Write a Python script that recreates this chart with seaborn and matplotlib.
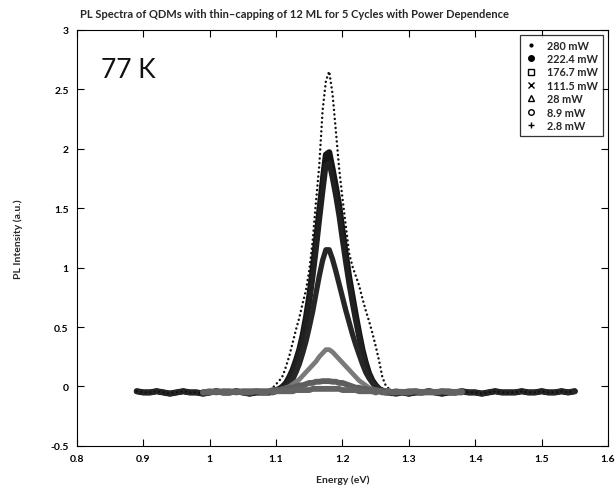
import matplotlib
matplotlib.use("Agg")
import matplotlib.pyplot as plt
from matplotlib.lines import Line2D
from matplotlib.ticker import FuncFormatter, FixedLocator
import seaborn as sns
import pandas as pd

# ---------------- data ----------------
E_WIDE = [0.89, 0.90, 0.91, 0.92, 0.93, 0.94, 0.95, 0.96, 0.97, 0.98,
          0.99, 1.00, 1.01, 1.02, 1.03, 1.04, 1.05, 1.06, 1.07, 1.08,
          1.085, 1.09, 1.095, 1.10, 1.105, 1.11, 1.115, 1.12, 1.125, 1.13,
          1.135, 1.14, 1.145, 1.15, 1.155, 1.16, 1.165, 1.17, 1.175, 1.18,
          1.185, 1.19, 1.195, 1.20, 1.205, 1.21, 1.215, 1.22, 1.225, 1.23,
          1.235, 1.24, 1.245, 1.25, 1.255, 1.26, 1.265, 1.27, 1.275, 1.28,
          1.29, 1.30, 1.31, 1.32, 1.33, 1.34, 1.35, 1.36, 1.37, 1.38,
          1.39, 1.40, 1.41, 1.42, 1.43, 1.44, 1.45, 1.46, 1.47, 1.48,
          1.49, 1.50, 1.51, 1.52, 1.53, 1.54, 1.55]

BASE_LEFT = [-0.04, -0.05, -0.05, -0.04, -0.05, -0.06, -0.05, -0.04, -0.05, -0.05,
             -0.06, -0.05, -0.04, -0.05, -0.05, -0.04, -0.05, -0.06, -0.05, -0.05]
BASE_RIGHT = [-0.05, -0.06, -0.05, -0.05, -0.04, -0.05, -0.06, -0.05, -0.05, -0.04,
              -0.05, -0.05, -0.06, -0.05, -0.04, -0.05, -0.05, -0.05, -0.04, -0.05,
              -0.05, -0.04, -0.05, -0.05, -0.04, -0.05, -0.04]

PEAK_280 = [-0.04, -0.03, -0.01, 0.02, 0.05, 0.09, 0.17, 0.26, 0.37, 0.48,
            0.58, 0.70, 0.81, 0.98, 1.22, 1.55, 1.86, 2.32, 2.57, 2.65,
            2.46, 2.15, 1.83, 1.58, 1.35, 1.12, 1.01, 0.93, 0.85, 0.74,
            0.64, 0.55, 0.45, 0.34, 0.22, 0.08, 0.01, -0.02, -0.04, -0.05]
PEAK_222 = [-0.05, -0.05, -0.04, -0.03, -0.02, 0.00, 0.03, 0.08, 0.14, 0.22,
            0.31, 0.43, 0.58, 0.76, 0.98, 1.22, 1.47, 1.72, 1.95, 1.97,
            1.83, 1.68, 1.52, 1.31, 1.11, 0.92, 0.76, 0.60, 0.45, 0.31,
            0.20, 0.11, 0.05, 0.01, -0.02, -0.04, -0.05, -0.05, -0.05, -0.06]
PEAK_176 = [-0.05, -0.05, -0.05, -0.04, -0.03, -0.01, 0.02, 0.06, 0.12, 0.19,
            0.28, 0.39, 0.53, 0.70, 0.91, 1.14, 1.39, 1.63, 1.86, 1.88,
            1.75, 1.60, 1.43, 1.23, 1.04, 0.86, 0.70, 0.55, 0.41, 0.28,
            0.18, 0.10, 0.04, 0.00, -0.03, -0.04, -0.05, -0.05, -0.06, -0.05]
PEAK_111 = [-0.05, -0.05, -0.05, -0.04, -0.04, -0.03, -0.01, 0.02, 0.06, 0.12,
            0.19, 0.28, 0.38, 0.50, 0.63, 0.78, 0.93, 1.06, 1.15, 1.15,
            1.07, 0.97, 0.86, 0.75, 0.64, 0.54, 0.44, 0.35, 0.27, 0.19,
            0.12, 0.07, 0.03, 0.00, -0.02, -0.03, -0.04, -0.05, -0.05, -0.05]

P280 = BASE_LEFT + PEAK_280 + BASE_RIGHT
P222 = BASE_LEFT + PEAK_222 + BASE_RIGHT
P176 = BASE_LEFT + PEAK_176 + BASE_RIGHT
P111 = BASE_LEFT + PEAK_111 + BASE_RIGHT

E_NARROW = [0.99, 1.00, 1.01, 1.02, 1.03, 1.04, 1.05, 1.06, 1.07, 1.08,
            1.085, 1.09, 1.095, 1.10, 1.105, 1.11, 1.115, 1.12, 1.125, 1.13,
            1.135, 1.14, 1.145, 1.15, 1.155, 1.16, 1.165, 1.17, 1.175, 1.18,
            1.185, 1.19, 1.195, 1.20, 1.205, 1.21, 1.215, 1.22, 1.225, 1.23,
            1.235, 1.24, 1.245, 1.25, 1.255, 1.26, 1.265, 1.27, 1.275, 1.28,
            1.29, 1.30, 1.31, 1.32, 1.33, 1.34, 1.35, 1.36, 1.37, 1.38]

P28 = [-0.04, -0.05, -0.04, -0.04, -0.05, -0.04, -0.04, -0.05, -0.04, -0.04,
       -0.04, -0.04, -0.04, -0.04, -0.03, -0.02, -0.01, 0.00, 0.02, 0.04,
       0.06, 0.09, 0.12, 0.15, 0.18, 0.21, 0.25, 0.28, 0.31, 0.31,
       0.29, 0.26, 0.23, 0.20, 0.17, 0.14, 0.11, 0.08, 0.05, 0.03,
       0.01, -0.01, -0.02, -0.03, -0.03, -0.04, -0.04, -0.04, -0.05, -0.04,
       -0.04, -0.05, -0.04, -0.04, -0.05, -0.04, -0.04, -0.05, -0.04, -0.04]
P8_9 = [-0.05, -0.04, -0.05, -0.04, -0.04, -0.05, -0.04, -0.04, -0.04, -0.04,
        -0.04, -0.04, -0.03, -0.03, -0.03, -0.02, -0.02, -0.01, -0.01, 0.00,
        0.01, 0.01, 0.02, 0.03, 0.03, 0.04, 0.04, 0.045, 0.045, 0.045,
        0.04, 0.04, 0.03, 0.03, 0.02, 0.01, 0.00, -0.01, -0.01, -0.02,
        -0.02, -0.03, -0.03, -0.03, -0.04, -0.04, -0.04, -0.04, -0.05, -0.04,
        -0.05, -0.04, -0.04, -0.05, -0.04, -0.05, -0.04, -0.04, -0.05, -0.04]
P2_8 = [-0.05, -0.05, -0.04, -0.05, -0.05, -0.04, -0.05, -0.05, -0.04, -0.05,
        -0.05, -0.04, -0.05, -0.04, -0.04, -0.04, -0.04, -0.04, -0.04, -0.03,
        -0.03, -0.03, -0.03, -0.03, -0.02, -0.02, -0.02, -0.02, -0.02, -0.02,
        -0.02, -0.02, -0.02, -0.03, -0.03, -0.03, -0.03, -0.03, -0.04, -0.04,
        -0.04, -0.04, -0.04, -0.05, -0.04, -0.05, -0.05, -0.04, -0.05, -0.05,
        -0.05, -0.05, -0.04, -0.05, -0.05, -0.05, -0.04, -0.05, -0.05, -0.05]

LABELS = ["280 mW", "222.4 mW", "176.7 mW", "111.5 mW", "28 mW", "8.9 mW", "2.8 mW"]
X_TICKS = [0.8, 0.9, 1.0, 1.1, 1.2, 1.3, 1.4, 1.5, 1.6]
Y_TICKS = [-0.5, 0, 0.5, 1, 1.5, 2, 2.5, 3]

# ---------------- build table ----------------
series = [(LABELS[0], E_WIDE, P280), (LABELS[1], E_WIDE, P222),
          (LABELS[2], E_WIDE, P176), (LABELS[3], E_WIDE, P111),
          (LABELS[4], E_NARROW, P28), (LABELS[5], E_NARROW, P8_9),
          (LABELS[6], E_NARROW, P2_8)]
rows = []
for name, xs, ys in series:
    for x, y in zip(xs, ys):
        rows.append({"Energy": x, "Intensity": y, "Power": name})
df = pd.DataFrame(rows)

# ---------------- style ----------------
sns.set_theme(style="ticks")
plt.rcParams["font.family"] = ["Lato", "DejaVu Sans"]
plt.rcParams["axes.unicode_minus"] = False

fig = plt.figure(figsize=(6.16, 4.89), dpi=100)
ax = fig.add_axes([0.125, 0.086, 0.862, 0.851])

line_styles = {
    "222.4 mW": dict(color="#151515", lw=4.4),
    "176.7 mW": dict(color="#202020", lw=3.8),
    "111.5 mW": dict(color="#262626", lw=3.8),
    "28 mW": dict(color="#7a7a7a", lw=3.4),
    "8.9 mW": dict(color="#5e5e5e", lw=4.2),
    "2.8 mW": dict(color="#636363", lw=4.2),
}
for name in ["222.4 mW", "176.7 mW", "111.5 mW"]:
    st = line_styles[name]
    sns.lineplot(data=df[df["Power"] == name], x="Energy", y="Intensity",
                 ax=ax, color=st["color"], linewidth=st["lw"], legend=False,
                 sort=False, solid_capstyle="round", solid_joinstyle="round")
# 280 mW drawn as a dotted trace of small dots
sns.lineplot(data=df[df["Power"] == "280 mW"], x="Energy", y="Intensity",
             ax=ax, color="#111111", linewidth=1.8, legend=False, sort=False,
             linestyle=(0, (0.01, 1.8)), dash_capstyle="round")
for name in ["28 mW", "8.9 mW", "2.8 mW"]:
    st = line_styles[name]
    sns.lineplot(data=df[df["Power"] == name], x="Energy", y="Intensity",
                 ax=ax, color=st["color"], linewidth=st["lw"], legend=False,
                 sort=False, solid_capstyle="round", solid_joinstyle="round")

ax.set_xlim(0.8, 1.6)
ax.set_ylim(-0.5, 3)
ax.xaxis.set_major_locator(FixedLocator(X_TICKS))
ax.yaxis.set_major_locator(FixedLocator(Y_TICKS))
fmt = FuncFormatter(lambda v, p: "%g" % round(v, 2))
ax.xaxis.set_major_formatter(fmt)
ax.yaxis.set_major_formatter(fmt)
ax.tick_params(direction="in", length=5, width=0.8, top=True, right=True,
               labelsize=7.5, colors="black", pad=6)
for lab in ax.get_xticklabels() + ax.get_yticklabels():
    lab.set_fontweight("bold")
for sp in ax.spines.values():
    sp.set_visible(True)
    sp.set_color("black")
    sp.set_linewidth(0.8)
ax.grid(False)

ax.set_xlabel("Energy (eV)", fontsize=7.5, fontweight="bold", labelpad=8)
ax.set_ylabel("PL Intensity (a.u.)", fontsize=7.5, fontweight="bold", labelpad=20)
ax.set_title("PL Spectra of QDMs with thin\u2013capping of 12 ML for 5 Cycles with Power Dependence",
             fontsize=8, fontweight="bold", pad=9, x=0.41)
ax.text(0.045, 0.935, "77 K", transform=ax.transAxes, fontsize=19,
        ha="left", va="top", color="#111111")

markers = [(".", True), ("o", True), ("s", False), ("x", True),
           ("^", False), ("o", False), ("+", True)]
handles = []
for (m, filled), name in zip(markers, LABELS):
    handles.append(Line2D([], [], linestyle="none", marker=m, markersize=4,
                          color="black",
                          markerfacecolor="black" if filled else "none",
                          markeredgewidth=1.0, label=name))
leg = ax.legend(handles=handles, loc="upper right",
                bbox_to_anchor=(1 - 5 / 531, 1 - 5 / 416), borderaxespad=0,
                fancybox=False, frameon=True, edgecolor="black",
                prop={"size": 7.8, "weight": "bold"}, handlelength=1.2,
                handletextpad=0.9, labelspacing=0.22, borderpad=0.45)
leg.get_frame().set_linewidth(0.9)

fig.savefig("out.png", dpi=100, facecolor="white")
